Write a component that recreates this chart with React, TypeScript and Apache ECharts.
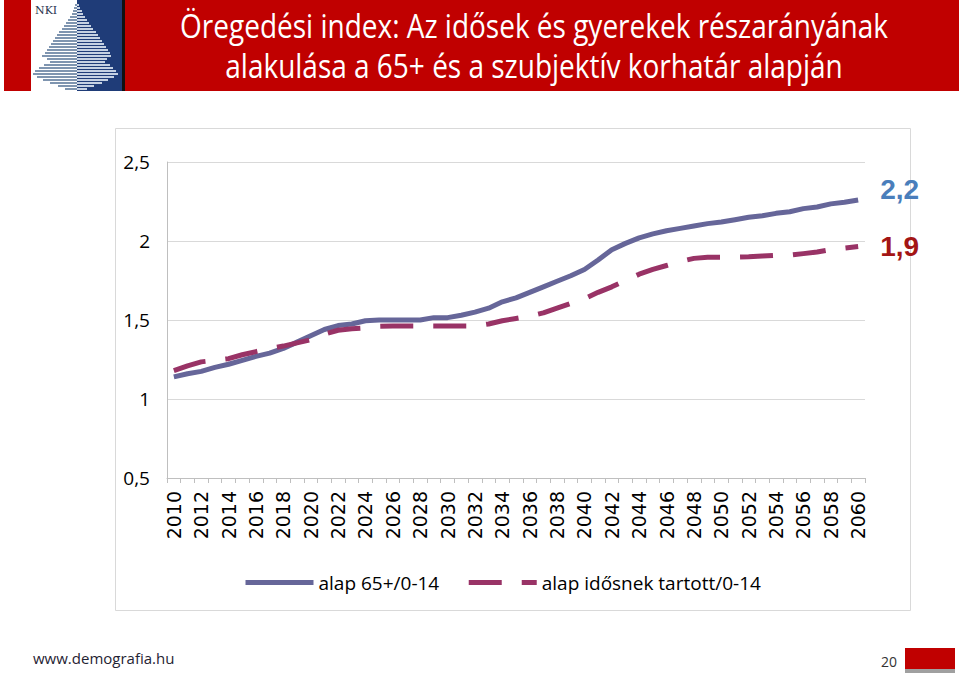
import React, { useEffect, useRef } from "react";
import * as echarts from "echarts";

const years: string[] = [];
for (let y = 2010; y <= 2060; y++) years.push(String(y));

const seriesNames = ["alap 65+/0-14", "alap idősnek tartott/0-14"];

const alap65 = [
  1.14, 1.16, 1.175, 1.2, 1.22, 1.245, 1.27, 1.29, 1.32, 1.36,
  1.4, 1.44, 1.465, 1.475, 1.495, 1.5, 1.5, 1.5, 1.5, 1.515,
  1.515, 1.53, 1.55, 1.575, 1.615, 1.64, 1.675, 1.71, 1.745, 1.78,
  1.82, 1.88, 1.945, 1.985, 2.02, 2.045, 2.065, 2.08, 2.095, 2.11,
  2.12, 2.135, 2.15, 2.16, 2.175, 2.185, 2.205, 2.215, 2.235, 2.245,
  2.26,
];

const alapIdos = [
  1.18, 1.21, 1.235, 1.245, 1.255, 1.28, 1.3, 1.32, 1.335, 1.355,
  1.375, 1.41, 1.435, 1.445, 1.45, 1.46, 1.462, 1.462, 1.462, 1.462,
  1.462, 1.462, 1.462, 1.475, 1.495, 1.51, 1.525, 1.545, 1.575, 1.605,
  1.635, 1.675, 1.71, 1.75, 1.79, 1.82, 1.845, 1.87, 1.89, 1.897,
  1.897, 1.897, 1.9, 1.905, 1.91, 1.91, 1.92, 1.93, 1.945, 1.955,
  1.965,
];

const endLabels = ["2,2", "1,9"];

const titleLines = [
  "Öregedési index: Az idősek és gyerekek részarányának",
  "alakulása a 65+ és a szubjektív korhatár alapján",
];

// decorative logo pyramid (half widths per row)
const logoLeft = [2, 3, 4, 5, 7, 9, 11, 13, 15, 18, 20, 22, 24, 26, 28, 30, 32, 35, 30, 27, 33, 38, 42, 44, 40, 34, 27, 19, 12];
const logoRight = [2, 3, 5, 6, 8, 10, 12, 14, 16, 19, 21, 23, 25, 27, 29, 31, 33, 34, 30, 28, 33, 36, 39, 41, 37, 31, 25, 17, 10];

export default function App() {
  const ref = useRef<HTMLDivElement>(null);

  useEffect(() => {
    if (!ref.current) return;
    const chart = echarts.init(ref.current, undefined, { renderer: "svg" });

    const logoEls: any[] = [];
    logoLeft.forEach((w, i) => {
      logoEls.push({
        type: "rect",
        shape: { x: 77 - w, y: 4 + i * 3, width: w, height: 2 },
        style: { fill: "#7f95b0" },
        z: 3,
      });
    });
    logoRight.forEach((w, i) => {
      logoEls.push({
        type: "rect",
        shape: { x: 77, y: 4 + i * 3, width: w, height: 2 },
        style: { fill: "#c5d1e2" },
        z: 3,
      });
    });

    const font = "'Open Sans', 'DejaVu Sans', sans-serif";
    const titleFont = "32px 'Open Sans', sans-serif";

    chart.setOption({
      animation: false,
      backgroundColor: "#ffffff",
      graphic: [
        { type: "rect", shape: { x: 4, y: 0, width: 955, height: 91 }, style: { fill: "#c00000" }, z: 1 },
        { type: "rect", shape: { x: 31, y: 0, width: 46, height: 91 }, style: { fill: "#ffffff" }, z: 2 },
        { type: "rect", shape: { x: 77, y: 0, width: 45, height: 91 }, style: { fill: "#1f3c78" }, z: 2 },
        { type: "rect", shape: { x: 122, y: 0, width: 3, height: 91 }, style: { fill: "#111111" }, z: 2 },
        ...logoEls,
        {
          type: "text",
          x: 35,
          y: 5,
          style: { text: "NKI", fill: "#2a3550", font: "11px 'DejaVu Serif', serif" },
          z: 4,
        },
        {
          type: "text",
          x: 534,
          y: 26,
          scaleX: 0.875,
          style: {
            text: titleLines[0],
            fill: "#ffffff",
            font: titleFont,
            textAlign: "center",
            textVerticalAlign: "middle",
          },
          z: 4,
        },
        {
          type: "text",
          x: 534,
          y: 66,
          scaleX: 0.875,
          style: {
            text: titleLines[1],
            fill: "#ffffff",
            font: titleFont,
            textAlign: "center",
            textVerticalAlign: "middle",
          },
          z: 4,
        },
        {
          type: "rect",
          shape: { x: 115.5, y: 128.5, width: 795, height: 482 },
          style: { fill: "none", stroke: "#d9d9d9", lineWidth: 1 },
          z: 0,
        },
        {
          type: "text",
          x: 33,
          y: 658,
          style: {
            text: "www.demografia.hu",
            fill: "#1f2333",
            font: "15px 'Open Sans', sans-serif",
            textVerticalAlign: "middle",
          },
        },
        {
          type: "text",
          x: 897,
          y: 661,
          style: {
            text: "20",
            fill: "#333333",
            font: "14px 'Open Sans', sans-serif",
            textAlign: "right",
            textVerticalAlign: "middle",
          },
        },
        { type: "rect", shape: { x: 905, y: 648, width: 50, height: 21 }, style: { fill: "#c00000" } },
        { type: "rect", shape: { x: 905, y: 669, width: 50, height: 4 }, style: { fill: "#a0a0a0" } },
      ],
      grid: { left: 167, right: 94, top: 162, bottom: 197, containLabel: false },
      legend: {
        left: 238,
        top: 568,
        itemWidth: 68,
        itemHeight: 14,
        itemGap: 27,
        data: seriesNames,
        itemStyle: { opacity: 0, color: "rgba(0,0,0,0)", borderWidth: 0 },
        lineStyle: { width: 5 },
        textStyle: { fontSize: 19, fontFamily: font, color: "#000000" },
      },
      xAxis: {
        type: "category",
        data: years,
        boundaryGap: true,
        axisLine: { lineStyle: { color: "#bfbfbf" } },
        axisTick: { show: true, interval: 0, length: 5, lineStyle: { color: "#bfbfbf" } },
        axisLabel: {
          interval: 1,
          rotate: 90,
          margin: 13,
          fontSize: 19,
          fontFamily: "'DejaVu Sans', sans-serif",
          color: "#000000",
        },
        splitLine: { show: false },
      },
      yAxis: {
        type: "value",
        min: 0.5,
        max: 2.5,
        interval: 0.5,
        axisLine: { show: true, lineStyle: { color: "#bfbfbf" } },
        axisTick: { show: false },
        splitLine: { lineStyle: { color: "#d9d9d9" } },
        axisLabel: {
          margin: 17,
          fontSize: 19,
          fontFamily: font,
          color: "#000000",
          formatter: (v: number) => String(v).replace(".", ","),
        },
      },
      series: [
        {
          name: seriesNames[0],
          type: "line",
          data: alap65,
          symbol: "none",
          lineStyle: { color: "#666699", width: 5 },
          itemStyle: { color: "#666699" },
          endLabel: {
            show: true,
            formatter: () => endLabels[0],
            color: "#4a7ebb",
            fontSize: 28,
            fontWeight: "bold",
            fontFamily: "'Liberation Sans', Arial, sans-serif",
            distance: 22,
            offset: [0, -10],
          },
        },
        {
          name: seriesNames[1],
          type: "line",
          data: alapIdos,
          symbol: "none",
          lineStyle: { color: "#993366", width: 5, type: [33, 20] },
          itemStyle: { color: "#993366" },
          endLabel: {
            show: true,
            formatter: () => endLabels[1],
            color: "#a31515",
            fontSize: 28,
            fontWeight: "bold",
            fontFamily: "'Liberation Sans', Arial, sans-serif",
            distance: 22,
          },
        },
      ],
    });

    return () => chart.dispose();
  }, []);

  return (
    <div
      ref={ref}
      style={{ position: "fixed", left: 0, top: 0, width: 959, height: 675 }}
    />
  );
}
